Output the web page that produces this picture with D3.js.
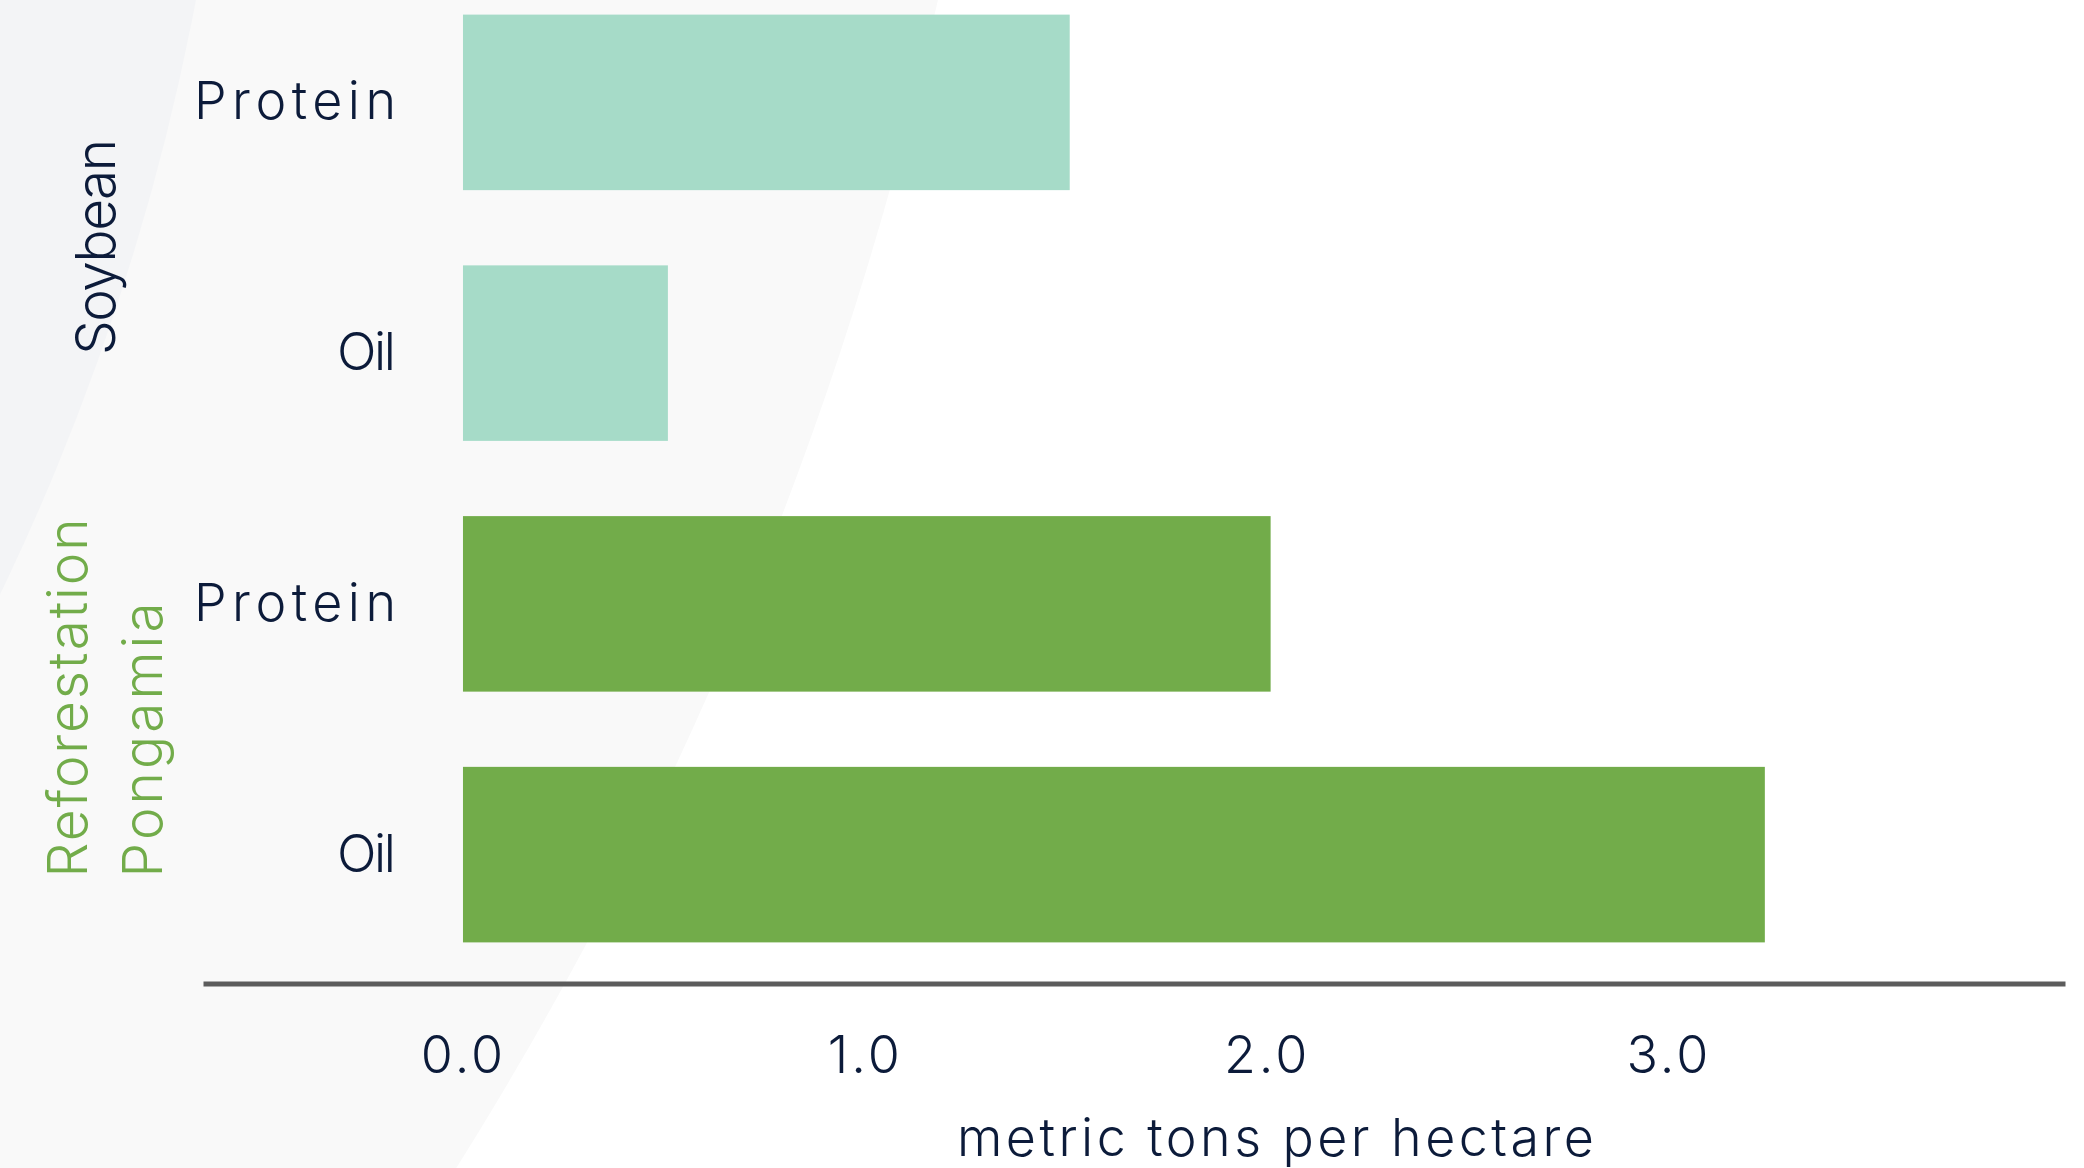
<!DOCTYPE html>
<html>
<head>
<meta charset="utf-8">
<script src="https://cdn.jsdelivr.net/npm/d3@7"></script>
<style>
  html, body { margin: 0; padding: 0; background: #ffffff; }
  svg { display: block; }
  text { font-family: Inter, "Noto Sans", sans-serif; font-weight: 300; }
</style>
</head>
<body>
<svg id="chart" width="2084" height="1168"></svg>
<script>
// Yield per hectare, two crops, protein vs oil
const groups = ["Soybean", "Reforestation Pongamia"];
const items = ["Protein", "Oil"];
const soybeanValues = [1.51, 0.51];
const pongamiaValues = [2.01, 3.24];
const xTicks = [0, 1, 2, 3];
const xTitle = "metric tons per hectare";

const groupColors = ["#a6dbc8", "#72ac4a"];
const groupLabelColors = ["#0c1b3a", "#72ac4a"];
const ink = "#0c1b3a";

const rows = [];
[soybeanValues, pongamiaValues].forEach((vals, gi) => {
  items.forEach((item, ii) => {
    rows.push({ group: groups[gi], gi, item, value: vals[ii], key: groups[gi] + "|" + item });
  });
});

const W = 2084, H = 1168;
const svg = d3.select("#chart");

// soft background swooshes on the left
svg.append("rect").attr("width", W).attr("height", H).attr("fill", "#ffffff");
svg.append("circle").attr("cx", -2722).attr("cy", -826).attr("r", 3752).attr("fill", "#f9f9f9");
svg.append("circle").attr("cx", -2160).attr("cy", -447).attr("r", 2398).attr("fill", "#f3f4f6");

const x = d3.scaleLinear().domain([-0.647, 3.987]).range([203, 2065]);
const y = d3.scaleBand()
  .domain(rows.map(d => d.key))
  .range([-23, 980])
  .paddingInner(0.3)
  .paddingOuter(0.15);

// bars
svg.append("g")
  .selectAll("rect")
  .data(rows)
  .join("rect")
  .attr("x", x(0))
  .attr("y", d => y(d.key))
  .attr("width", d => x(d.value) - x(0))
  .attr("height", y.bandwidth())
  .attr("fill", d => groupColors[d.gi]);

// category labels
svg.append("g")
  .selectAll("text")
  .data(rows)
  .join("text")
  .attr("x", 396)
  .attr("y", d => y(d.key) + y.bandwidth() / 2 + 17)
  .attr("text-anchor", "end")
  .attr("font-size", 52)
  .attr("fill", ink)
  .attr("textLength", d => d.item === "Protein" ? 202 : 59)
  .attr("lengthAdjust", "spacing")
  .text(d => d.item);

// group labels, rotated
const soyKeys = rows.filter(d => d.gi === 0).map(d => d.key);
const pongKeys = rows.filter(d => d.gi === 1).map(d => d.key);

svg.append("text")
  .attr("transform", `translate(115, ${y(soyKeys[1]) + y.bandwidth() - 86}) rotate(-90)`)
  .attr("font-size", 55)
  .attr("fill", groupLabelColors[0])
  .attr("textLength", 216)
  .attr("lengthAdjust", "spacing")
  .text(groups[0]);

const pongLines = groups[1].split(" ");
const pongBottom = y(pongKeys[1]) + y.bandwidth() - 65;
const pongLens = [359, 275];
pongLines.forEach((line, i) => {
  svg.append("text")
    .attr("transform", `translate(${87 + i * 75}, ${pongBottom}) rotate(-90)`)
    .attr("font-size", 55)
    .attr("fill", groupLabelColors[1])
    .attr("textLength", pongLens[i])
    .attr("lengthAdjust", "spacing")
    .text(line);
});

// x axis
const axisY = 983.5;
const axis = svg.append("g")
  .attr("transform", `translate(0, ${axisY})`)
  .call(d3.axisBottom(x).tickValues(xTicks).tickFormat(d3.format(".1f")).tickSize(0).tickSizeOuter(0));
axis.select(".domain").attr("stroke", "#5c5c5c").attr("stroke-width", 5);
axis.selectAll(".tick text")
  .attr("y", 89.5)
  .attr("dy", 0)
  .attr("font-size", 52)
  .attr("font-family", "Inter, 'Noto Sans', sans-serif")
  .attr("font-weight", 300)
  .attr("letter-spacing", 3)
  .attr("fill", ink);

svg.append("text")
  .attr("x", 957)
  .attr("y", 1156)
  .attr("font-size", 52)
  .attr("fill", ink)
  .attr("textLength", 637)
  .attr("lengthAdjust", "spacing")
  .text(xTitle);
</script>
</body>
</html>
